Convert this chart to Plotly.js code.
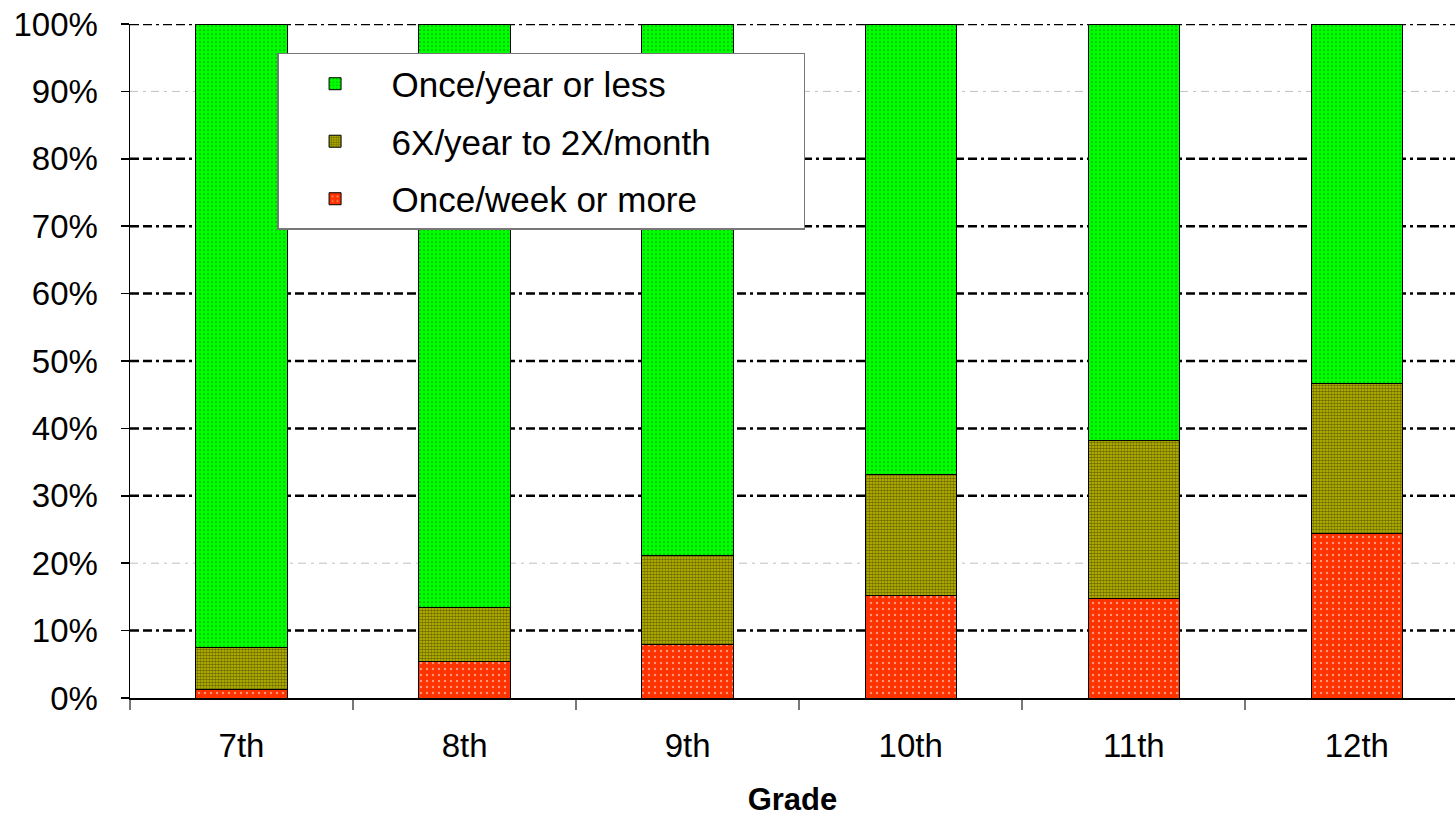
<!DOCTYPE html>
<html>
<head>
<meta charset="utf-8">
<script src="https://cdn.plot.ly/plotly-3.0.1.min.js"></script>
<style>
html,body{margin:0;padding:0;background:#fff;}
#chart{width:1455px;height:819px;}
</style>
</head>
<body>
<div id="chart"></div>
<script>
// Data (percent of students), bottom to top of each stack
const grades = ['7th', '8th', '9th', '10th', '11th', '12th'];
const onceWeekOrMore = [1.3, 5.4, 7.9, 15.2, 14.8, 24.4];
const sixYearTo2Month = [6.2, 8.1, 13.3, 18.0, 23.4, 22.3];
const onceYearOrLess = [92.5, 86.5, 78.8, 66.8, 61.8, 53.3];
const seriesNames = ['Once/week or more', '6X/year to 2X/month', 'Once/year or less'];
const yTickVals = [0, 10, 20, 30, 40, 50, 60, 70, 80, 90, 100];
const yTickText = ['0%', '10%', '20%', '30%', '40%', '50%', '60%', '70%', '80%', '90%', '100%'];
const darkGridVals = [10, 30, 40, 50, 60, 70, 80, 100];
const lightGridVals = [20, 90];

const font = 'Liberation Sans, Arial, sans-serif';
const barWidth = 0.41;
const line = {color: '#000', width: 1};
const pad = '\u00a0'.repeat(9);

const traces = [
  {
    type: 'bar', x: grades, y: onceWeekOrMore, name: seriesNames[0] + pad,
    legendgroup: 'g3', legendrank: 3,
    width: barWidth,
    marker: {color: '#ff3300', line: line,
      pattern: {shape: '.', fgcolor: '#ffffff', bgcolor: '#ff3300', size: 6, solidity: 0.12, fillmode: 'overlay'}},
    hoverinfo: 'x+y+name'
  },
  {
    type: 'bar', x: grades, y: sixYearTo2Month, name: seriesNames[1] + pad,
    legendgroup: 'g2', legendrank: 2,
    width: barWidth,
    marker: {color: '#b8b400', line: line,
      pattern: {shape: '.', fgcolor: '#1a1a00', bgcolor: '#c4c000', size: 3, solidity: 0.6, fillmode: 'overlay'}},
    hoverinfo: 'x+y+name'
  },
  {
    type: 'bar', x: grades, y: onceYearOrLess, name: seriesNames[2] + pad,
    legendgroup: 'g1', legendrank: 1,
    width: barWidth,
    marker: {color: '#00ff00', line: line,
      pattern: {shape: '.', fgcolor: '#004400', bgcolor: '#00ff00', size: 4, solidity: 0.15, fillmode: 'overlay'}},
    hoverinfo: 'x+y+name'
  }
];

const gridShape = (v, color, width, dash) => ({
  type: 'line', xref: 'paper', x0: 0, x1: 1, yref: 'y', y0: v, y1: v,
  layer: 'below', line: {color: color, width: width, dash: dash}
});
const shapes = darkGridVals.map(v => gridShape(v, '#000', 2.5, '9px,4px,9px,4px,3px,4px'))
  .concat(lightGridVals.map(v => gridShape(v, '#c0c0c0', 1, '8px,5px,3px,5px')));

const layout = {
  width: 1455, height: 819,
  margin: {l: 130, r: 0, t: 24, b: 121, pad: 0},
  paper_bgcolor: '#fff', plot_bgcolor: 'rgba(0,0,0,0)',
  barmode: 'stack',
  font: {family: font, size: 33, color: '#000'},
  showlegend: true,
  legend: {
    x: 0.111, y: 0.957, xanchor: 'left', yanchor: 'top',
    bgcolor: '#fff', bordercolor: '#777', borderwidth: 1.5,
    font: {family: font, size: 35, color: '#000'},
    traceorder: 'grouped', tracegroupgap: 9, itemwidth: 103
  },
  shapes: shapes,
  xaxis: {
    type: 'category', range: [-0.5, 5.44],
    tickson: 'boundaries', ticks: 'outside', ticklen: 10, tickcolor: '#777', tickwidth: 2,
    showline: true, linecolor: '#000', linewidth: 1.5,
    showgrid: false, zeroline: false,
    tickfont: {family: font, size: 33}, ticklabelstandoff: 18,
    title: {text: '<b>Grade</b>', font: {family: font, size: 31}, standoff: 25}
  },
  yaxis: {
    range: [0, 100], tickmode: 'array', tickvals: yTickVals, ticktext: yTickText,
    ticks: 'outside', ticklen: 8, tickcolor: '#000', tickwidth: 1.5,
    showline: true, linecolor: '#000', linewidth: 1.5,
    showgrid: false, zeroline: false,
    tickfont: {family: font, size: 33}, ticklabelstandoff: 16
  }
};

Plotly.newPlot('chart', traces, layout, {displayModeBar: false, staticPlot: true});
</script>
</body>
</html>
